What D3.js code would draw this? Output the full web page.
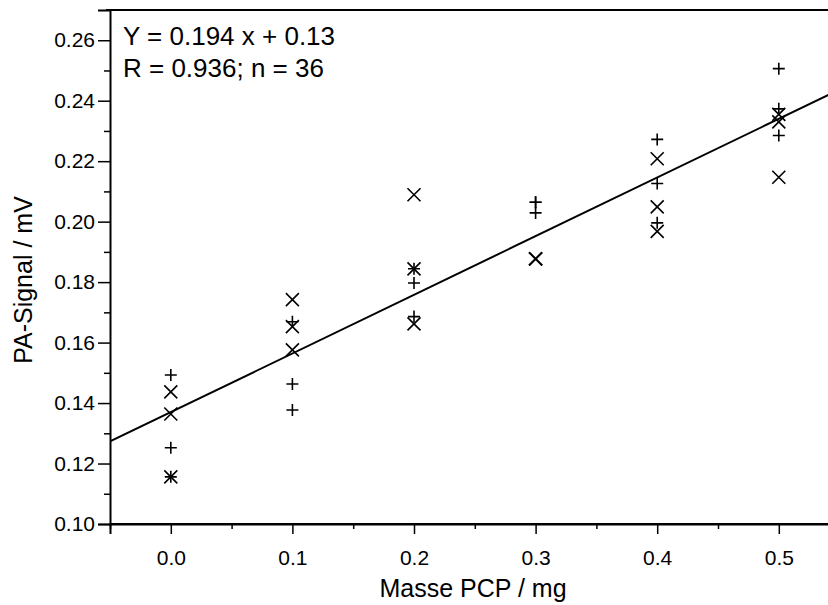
<!DOCTYPE html>
<html>
<head>
<meta charset="utf-8">
<script src="https://cdn.jsdelivr.net/npm/d3@7"></script>
<style>
  body { margin: 0; background: #fff; }
  svg { display: block; font-family: "Liberation Sans", Arial, sans-serif; }
</style>
</head>
<body>
<svg id="chart" width="828" height="605"></svg>
<script>
// 데이터: 질량별 측정값 (+ 와 × 두 계열)
const masses = [0.0, 0.1, 0.2, 0.3, 0.4, 0.5];
const plusValues = [
  [0.1493, 0.1252, 0.1156],
  [0.1669, 0.1463, 0.1377],
  [0.1844, 0.1797, 0.1686],
  [0.2064, 0.2064, 0.2029],
  [0.2272, 0.2126, 0.1996],
  [0.2506, 0.2373, 0.2285]
];
const crossValues = [
  [0.1437, 0.1364, 0.1156],
  [0.1742, 0.1653, 0.1576],
  [0.2089, 0.1844, 0.1662],
  [0.1877, 0.1877, 0.1877],
  [0.2208, 0.2049, 0.1968],
  [0.2355, 0.2330, 0.2147]
];
const fitSlope = 0.194;
const fitIntercept = 0.137;
const xTicks = [0.0, 0.1, 0.2, 0.3, 0.4, 0.5];
const yTicks = [0.10, 0.12, 0.14, 0.16, 0.18, 0.20, 0.22, 0.24, 0.26];

const svg = d3.select('#chart');
const margin = { top: 10, left: 110 };
const plotBottom = 524;

const xScale = d3.scaleLinear().domain([-0.05, 0.55]).range([margin.left, margin.left + 729.6]);
const yScale = d3.scaleLinear().domain([0.10, 0.27]).range([plotBottom, margin.top]);

svg.append('clipPath').attr('id', 'plotclip')
  .append('rect')
  .attr('x', margin.left).attr('y', margin.top)
  .attr('width', 828 - margin.left).attr('height', plotBottom - margin.top);

// 축
svg.append('g')
  .attr('transform', `translate(0, ${plotBottom})`)
  .call(d3.axisBottom(xScale).tickValues(xTicks).tickSize(10).tickPadding(16)
    .tickFormat(d3.format('.1f')))
  .attr('font-size', 21);
svg.append('g')
  .attr('transform', `translate(0, ${plotBottom})`)
  .call(d3.axisBottom(xScale).tickValues(d3.range(-0.05, 0.56, 0.1)).tickSize(5).tickFormat(''))
  .call(g => g.select('.domain').remove());

svg.append('g')
  .attr('transform', `translate(${margin.left}, 0)`)
  .call(d3.axisLeft(yScale).tickValues(yTicks).tickSize(12).tickPadding(3)
    .tickFormat(d3.format('.2f')))
  .attr('font-size', 21);
svg.append('g')
  .attr('transform', `translate(${margin.left}, 0)`)
  .call(d3.axisLeft(yScale).tickValues(d3.range(0.11, 0.265, 0.02)).tickSize(6).tickFormat(''))
  .call(g => g.select('.domain').remove());

svg.selectAll('.domain').attr('stroke', '#000').attr('stroke-width', 2);
svg.selectAll('.tick line').attr('stroke', '#000').attr('stroke-width', 1.5);
svg.selectAll('.tick text').attr('fill', '#000').attr('font-family', '"Liberation Sans", Arial, sans-serif');

// 위쪽 테두리
svg.append('line')
  .attr('x1', margin.left - 4).attr('x2', 828)
  .attr('y1', margin.top).attr('y2', margin.top)
  .attr('stroke', '#000').attr('stroke-width', 2);
svg.append('line')
  .attr('x1', margin.left).attr('x2', 828)
  .attr('y1', plotBottom).attr('y2', plotBottom)
  .attr('stroke', '#000').attr('stroke-width', 2);

// 회귀선
const plot = svg.append('g').attr('clip-path', 'url(#plotclip)');
const fitX = xScale.domain();
plot.append('path')
  .datum(fitX.map(x => ({ x, y: fitSlope * x + fitIntercept })))
  .attr('fill', 'none')
  .attr('stroke', '#000')
  .attr('stroke-width', 2)
  .attr('d', d3.line().x(d => xScale(d.x)).y(d => yScale(d.y)));

// 점
const plusPts = masses.flatMap((m, i) => plusValues[i].map(v => ({ x: m, y: v })));
const crossPts = masses.flatMap((m, i) => crossValues[i].map(v => ({ x: m, y: v })));

plot.selectAll('.plus')
  .data(plusPts)
  .enter().append('path')
  .attr('class', 'plus')
  .attr('transform', d => `translate(${xScale(d.x)}, ${yScale(d.y)})`)
  .attr('d', 'M-6,0H6M0,-6V6')
  .attr('stroke', '#000').attr('stroke-width', 1.6).attr('fill', 'none');

plot.selectAll('.cross')
  .data(crossPts)
  .enter().append('path')
  .attr('class', 'cross')
  .attr('transform', d => `translate(${xScale(d.x)}, ${yScale(d.y)})`)
  .attr('d', 'M-6.5,-6.5L6.5,6.5M-6.5,6.5L6.5,-6.5')
  .attr('stroke', '#000').attr('stroke-width', 1.6).attr('fill', 'none');

// 식 텍스트
svg.append('text')
  .attr('x', 123).attr('y', 45)
  .style('font-size', '26px')
  .text('Y = 0.194 x + 0.13');
svg.append('text')
  .attr('x', 123).attr('y', 77)
  .style('font-size', '26px')
  .text('R = 0.936; n = 36');

// 축 제목
svg.append('text')
  .attr('x', 473).attr('y', 597)
  .attr('text-anchor', 'middle')
  .style('font-size', '25px')
  .text('Masse PCP / mg');
svg.append('text')
  .attr('transform', `translate(32, ${(margin.top + plotBottom) / 2 + 13}) rotate(-90)`)
  .attr('text-anchor', 'middle')
  .style('font-size', '25px')
  .text('PA-Signal / mV');
</script>
</body>
</html>
